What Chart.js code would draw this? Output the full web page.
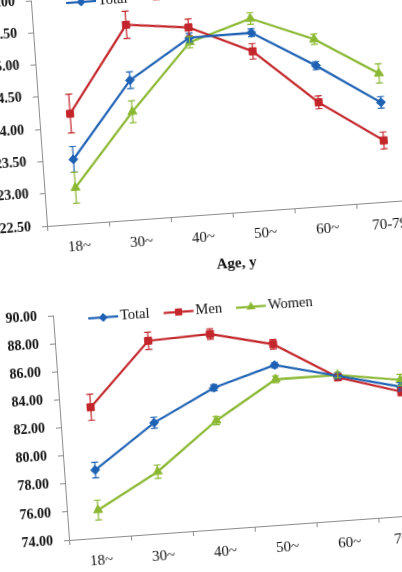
<!DOCTYPE html>
<html>
<head>
<meta charset="utf-8">
<title>BMI and waist circumference by age group</title>
<script src="https://cdn.jsdelivr.net/npm/chart.js@4.4.0/dist/chart.umd.min.js"></script>
<style>
    html, body { margin: 0; padding: 0; background: #fff; }
    body { width: 402px; height: 572px; overflow: hidden; position: relative; }
    /* the source is a slightly tilted photo of two figures */
    .panel { position: absolute; transform: rotate(-4.1deg); }
    #panelTop { left: -38.5px; top: -20.5px; transform-origin: 85px 246px; }
    #panelBottom { left: -16px; top: 294.4px; transform-origin: 85px 245.6px; }
    canvas { display: block; }
</style>
</head>
<body>
<div class="panel" id="panelTop"><canvas id="bmiChart" width="478" height="310"></canvas></div>
<div class="panel" id="panelBottom"><canvas id="wcChart" width="478" height="310"></canvas></div>

<script>
// Data
const ageGroups = ['18~', '30~', '40~', '50~', '60~', '70-79'];
const seriesNames = ['Total', 'Men', 'Women'];

const bmiTicks = { min: 22.5, max: 26, step: 0.5 };
const bmiTotal = [23.50, 24.66, 25.25, 25.26, 24.68, 24.04];
const bmiMen = [24.21, 25.52, 25.41, 24.97, 24.11, 23.45];
const bmiWomen = [23.06, 24.17, 25.18, 25.48, 25.09, 24.49];
const bmiTotalErr = [0.20, 0.13, 0.07, 0.06, 0.06, 0.09];
const bmiMenErr = [0.30, 0.21, 0.13, 0.12, 0.10, 0.13];
const bmiWomenErr = [0.24, 0.17, 0.09, 0.09, 0.08, 0.15];

const wcTicks = { min: 74, max: 90, step: 2 };
const wcTotal = [78.84, 81.90, 84.08, 85.38, 84.29, 83.20];
const wcMen = [83.32, 87.75, 87.92, 86.87, 84.19, 82.85];
const wcWomen = [75.98, 78.40, 81.73, 84.37, 84.36, 83.69];
const wcTotalErr = [0.55, 0.40, 0.22, 0.18, 0.20, 0.30];
const wcMenErr = [0.93, 0.62, 0.38, 0.34, 0.22, 0.30];
const wcWomenErr = [0.71, 0.48, 0.30, 0.24, 0.20, 0.40];

const seriesColors = ['#1f62b4', '#c3262b', '#8bb833'];
const seriesMarkers = [
    { style: 'rectRot', radius: 4.5 },
    { style: 'rect', radius: 5 },
    { style: 'triangle', radius: 5.2 }
];

const FONT = '"Liberation Serif", "Times New Roman", serif';
const AXIS_COLOR = '#8c8c8c';
const TEXT_COLOR = '#111';

// Marker shapes, same geometry as Chart.js point styles
function drawMarker(ctx, style, r, x, y) {
    ctx.beginPath();
    if (style === 'rectRot') {
        ctx.moveTo(x, y - r);
        ctx.lineTo(x + r, y);
        ctx.lineTo(x, y + r);
        ctx.lineTo(x - r, y);
    } else if (style === 'rect') {
        const s = r * Math.SQRT1_2;
        ctx.rect(x - s, y - s, 2 * s, 2 * s);
    } else {
        for (let k = 0; k < 3; k++) {
            const a = k * 2 * Math.PI / 3;
            const px = x + Math.sin(a) * r;
            const py = y - Math.cos(a) * r;
            k === 0 ? ctx.moveTo(px, py) : ctx.lineTo(px, py);
        }
    }
    ctx.closePath();
    ctx.fill();
}

// Error bars with small caps
const errorBarPlugin = {
    id: 'errorBars',
    afterDatasetsDraw(chart) {
        const ctx = chart.ctx;
        const yScale = chart.scales.y;
        chart.data.datasets.forEach((ds, i) => {
            const meta = chart.getDatasetMeta(i);
            if (!ds.errors || meta.hidden) return;
            ctx.save();
            ctx.strokeStyle = ds.borderColor;
            ctx.lineWidth = 1.2;
            meta.data.forEach((pt, j) => {
                const top = yScale.getPixelForValue(ds.data[j] + ds.errors[j]);
                const bottom = yScale.getPixelForValue(ds.data[j] - ds.errors[j]);
                ctx.beginPath();
                ctx.moveTo(pt.x, top);
                ctx.lineTo(pt.x, bottom);
                ctx.moveTo(pt.x - 3.5, top);
                ctx.lineTo(pt.x + 3.5, top);
                ctx.moveTo(pt.x - 3.5, bottom);
                ctx.lineTo(pt.x + 3.5, bottom);
                ctx.stroke();
            });
            ctx.restore();
        });
    }
};

// Excel style legend: line with marker, inside the plot top
const lineLegendPlugin = {
    id: 'lineLegend',
    afterDraw(chart) {
        const { ctx, chartArea } = chart;
        let x = chartArea.left + 35;
        const y = chartArea.top + 5;
        ctx.save();
        ctx.font = '14.5px ' + FONT;
        ctx.textBaseline = 'middle';
        chart.data.datasets.forEach((ds, i) => {
            ctx.strokeStyle = ds.borderColor;
            ctx.lineWidth = 2.2;
            ctx.beginPath();
            ctx.moveTo(x, y);
            ctx.lineTo(x + 30, y);
            ctx.stroke();
            ctx.fillStyle = ds.borderColor;
            drawMarker(ctx, seriesMarkers[i].style, seriesMarkers[i].radius, x + 15, y);
            ctx.fillStyle = TEXT_COLOR;
            ctx.fillText(ds.label, x + 32, y);
            x += 32 + ctx.measureText(ds.label).width + 14;
        });
        ctx.restore();
    }
};

function buildDatasets(values, errors) {
    return values.map((data, i) => ({
        label: seriesNames[i],
        data: data,
        errors: errors[i],
        borderColor: seriesColors[i],
        backgroundColor: seriesColors[i],
        pointBackgroundColor: seriesColors[i],
        pointBorderColor: seriesColors[i],
        pointBorderWidth: 1,
        pointStyle: seriesMarkers[i].style,
        pointRadius: seriesMarkers[i].radius,
        borderWidth: 2.2,
        tension: 0,
        fill: false
    }));
}

function buildOptions(ticks, yTitle, padTop) {
    const axisGrid = {
        display: true,
        drawOnChartArea: false,
        drawTicks: true,
        tickLength: 5,
        color: AXIS_COLOR
    };
    return {
        responsive: false,
        animation: false,
        layout: { padding: { top: padTop, right: 20, bottom: 0, left: 0 } },
        plugins: {
            legend: { display: false },
            tooltip: { enabled: false }
        },
        scales: {
            x: {
                type: 'category',
                offset: true,
                grid: Object.assign({ offset: true }, axisGrid),
                border: { display: true, color: AXIS_COLOR, width: 1 },
                ticks: {
                    color: TEXT_COLOR,
                    padding: 9,
                    maxRotation: 0,
                    autoSkip: false,
                    font: { family: FONT, size: 15 }
                },
                title: {
                    display: true,
                    text: 'Age, y',
                    color: TEXT_COLOR,
                    padding: { top: 4, bottom: 4 },
                    font: { family: FONT, size: 15, weight: 'bold' }
                },
                afterFit(scale) { scale.height = 64; }
            },
            y: {
                min: ticks.min,
                max: ticks.max,
                grid: axisGrid,
                border: { display: true, color: AXIS_COLOR, width: 1 },
                ticks: {
                    stepSize: ticks.step,
                    color: TEXT_COLOR,
                    padding: 11,
                    font: { family: FONT, size: 14, weight: 'bold' },
                    callback: value => Number(value).toFixed(2)
                },
                title: {
                    display: true,
                    text: yTitle,
                    color: TEXT_COLOR,
                    font: { family: FONT, size: 15, weight: 'bold' }
                },
                afterFit(scale) { scale.width = 85; }
            }
        }
    };
}

new Chart(document.getElementById('bmiChart'), {
    type: 'line',
    data: {
        labels: ageGroups,
        datasets: buildDatasets([bmiTotal, bmiMen, bmiWomen], [bmiTotalErr, bmiMenErr, bmiWomenErr])
    },
    options: buildOptions(bmiTicks, 'BMI, kg/m²', 20),
    plugins: [errorBarPlugin, lineLegendPlugin]
});

new Chart(document.getElementById('wcChart'), {
    type: 'line',
    data: {
        labels: ageGroups,
        datasets: buildDatasets([wcTotal, wcMen, wcWomen], [wcTotalErr, wcMenErr, wcWomenErr])
    },
    options: buildOptions(wcTicks, 'Waist circumference, cm', 21.4),
    plugins: [errorBarPlugin, lineLegendPlugin]
});
</script>
</body>
</html>
